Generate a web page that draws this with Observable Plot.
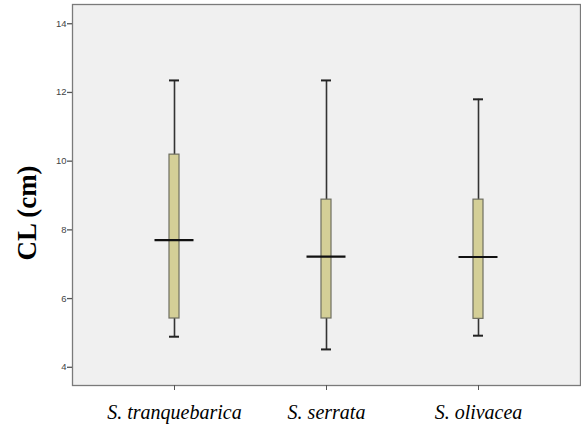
<!DOCTYPE html>
<html>
<head>
<meta charset="utf-8">
<script src="https://cdn.jsdelivr.net/npm/d3@7"></script>
<script src="https://cdn.jsdelivr.net/npm/@observablehq/plot@0.6"></script>
<style>
  body { margin: 0; background: #fff; }
  g[aria-label="x-axis tick label"], g[aria-label="x-axis tick label"] text {
    font-family: "Liberation Serif", "Times New Roman", serif !important;
    font-style: italic;
  }
  g[aria-label="y-axis tick label"], g[aria-label="y-axis tick label"] text {
    font-family: "Liberation Sans", Arial, sans-serif !important;
  }
</style>
</head>
<body>
<div id="chart"></div>
<script>
const species = ["S. tranquebarica", "S. serrata", "S. olivacea"];
const whiskerLow = [4.89, 4.52, 4.92];
const q1 = [5.42, 5.42, 5.41];
const median = [7.70, 7.22, 7.21];
const q3 = [10.19, 8.88, 8.88];
const whiskerHigh = [12.35, 12.35, 11.80];
const yTicks = [4, 6, 8, 10, 12, 14];
const yTitle = ["CL (cm)"];

const data = species.map((s, i) => ({
  species: s, lo: whiskerLow[i], q1: q1[i], med: median[i], q3: q3[i], hi: whiskerHigh[i]
}));

const bw = 152;
const boxInset = (bw - 10) / 2;
const medInset = (bw - 39) / 2;

const chart = Plot.plot({
  width: 581,
  height: 434,
  marginLeft: 72,
  marginRight: 1,
  marginTop: 4,
  marginBottom: 49,
  style: { background: "#fff" },
  x: { type: "band", domain: species, paddingInner: 0, paddingOuter: 0.171 },
  y: { domain: [3.47, 14.56] },
  marks: [
    Plot.frame({ fill: "#f0f0f0", stroke: "#7a7a7a", strokeWidth: 1.3 }),
    Plot.axisY({ ticks: yTicks, tickSize: 5, tickPadding: 1, fontSize: 9.5, fill: "#444", stroke: "#555", strokeWidth: 1.3, label: null }),
    Plot.axisX({ tickSize: 5, tickPadding: 14, fontSize: 20, fill: "#000", stroke: "#555", label: null }),
    Plot.ruleX(data, { x: "species", y1: "lo", y2: "hi", stroke: "#333", strokeWidth: 1.6 }),
    Plot.tickY(data, { x: "species", y: "hi", stroke: "#222", strokeWidth: 2, insetLeft: boxInset, insetRight: boxInset }),
    Plot.tickY(data, { x: "species", y: "lo", stroke: "#222", strokeWidth: 2, insetLeft: boxInset, insetRight: boxInset }),
    Plot.barY(data, { x: "species", y1: "q1", y2: "q3", fill: "#d4cf97", stroke: "#6e6e60", strokeWidth: 1.2, insetLeft: boxInset, insetRight: boxInset }),
    Plot.tickY(data, { x: "species", y: "med", stroke: "#111", strokeWidth: 2.2, insetLeft: medInset, insetRight: medInset }),
    Plot.text(yTitle, { frameAnchor: "left", textAnchor: "middle", lineAnchor: "middle", rotate: -90, dx: -45, dy: 18, fontSize: 27, fontWeight: "bold", fontFamily: "Liberation Serif", fill: "#000" })
  ]
});
document.getElementById("chart").appendChild(chart);
</script>
</body>
</html>
